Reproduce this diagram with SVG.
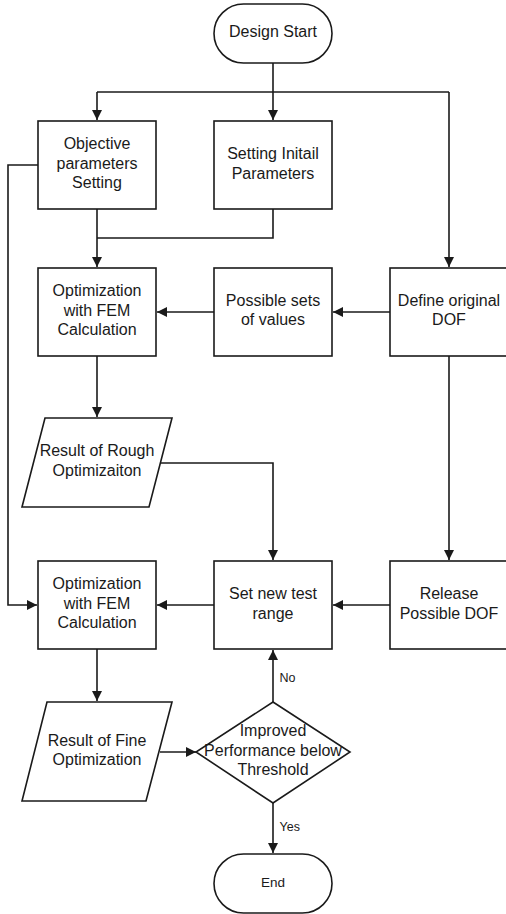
<svg xmlns="http://www.w3.org/2000/svg" width="506" height="914" viewBox="0 0 506 914">
<defs>
<marker id="ah" markerUnits="userSpaceOnUse" markerWidth="12" markerHeight="10" refX="10" refY="5" orient="auto">
<path d="M0,0 L10,5 L0,10 Z" fill="#1a1a1a"/>
</marker>
<style>
.s{fill:#fff;stroke:#1a1a1a;stroke-width:1.6}
.c{fill:none;stroke:#1a1a1a;stroke-width:1.6}
.a{marker-end:url(#ah)}
text{font-family:"Liberation Sans",Arial,sans-serif;font-size:16px;fill:#1a1a1a;text-anchor:middle}
.sm{font-size:13.5px}
.lb{font-size:12.5px;text-anchor:start}
</style>
</defs>
<rect width="506" height="914" fill="#fff"/>
<g id="connectors">
<path class="c" d="M273,63 V92"/>
<path class="c" d="M97,92 H449"/>
<path class="c a" d="M97,92 V120"/>
<path class="c a" d="M273,92 V120"/>
<path class="c a" d="M449,92 V267"/>
<path class="c" d="M273,209 V238 H97"/>
<path class="c a" d="M97,209 V267"/>
<path class="c a" d="M390,312 H333"/>
<path class="c a" d="M214,312 H157"/>
<path class="c a" d="M97,356 V417"/>
<path class="c a" d="M161,463 H273 V560"/>
<path class="c a" d="M449,356 V560"/>
<path class="c a" d="M38,165 H8 V605 H37"/>
<path class="c a" d="M390,605 H333"/>
<path class="c a" d="M214,605 H157"/>
<path class="c a" d="M97,649 V701"/>
<path class="c a" d="M160,752 H196"/>
<path class="c a" d="M273,702 V650"/>
<path class="c a" d="M273,803 V853"/>
<text class="lb" x="279.5" y="682">No</text>
<text class="lb" x="279.5" y="831">Yes</text>
</g>
<g id="start">
<rect class="s" x="214" y="4" width="118" height="59" rx="29.5"/>
<text x="273" y="37">Design Start</text>
</g>
<g id="objective">
<rect class="s" x="38" y="121" width="118" height="88"/>
<text x="97" y="149">Objective</text>
<text x="97" y="168.5">parameters</text>
<text x="97" y="188">Setting</text>
</g>
<g id="initial">
<rect class="s" x="214" y="121" width="118" height="88"/>
<text x="273" y="159">Setting Initail</text>
<text x="273" y="178.5">Parameters</text>
</g>
<g id="opt1">
<rect class="s" x="38" y="268" width="118" height="88"/>
<text x="97" y="296">Optimization</text>
<text x="97" y="315.5">with FEM</text>
<text x="97" y="335">Calculation</text>
</g>
<g id="possible">
<rect class="s" x="214" y="268" width="118" height="88"/>
<text x="273" y="305.5">Possible sets</text>
<text x="273" y="325">of values</text>
</g>
<g id="define">
<rect class="s" x="390" y="268" width="117" height="88"/>
<text x="449" y="305.5">Define original</text>
<text x="449" y="325">DOF</text>
</g>
<g id="rough">
<path class="s" d="M45,418 H172 L149,507 H22 Z"/>
<text x="97" y="456">Result of Rough</text>
<text x="97" y="475.5">Optimizaiton</text>
</g>
<g id="opt2">
<rect class="s" x="38" y="561" width="118" height="88"/>
<text x="97" y="589">Optimization</text>
<text x="97" y="608.5">with FEM</text>
<text x="97" y="628">Calculation</text>
</g>
<g id="setrange">
<rect class="s" x="214" y="561" width="118" height="88"/>
<text x="273" y="599">Set new test</text>
<text x="273" y="618.5">range</text>
</g>
<g id="release">
<rect class="s" x="390" y="561" width="117" height="88"/>
<text x="449" y="599">Release</text>
<text x="449" y="618.5">Possible DOF</text>
</g>
<g id="fine">
<path class="s" d="M47,702 H172 L146,801 H22 Z"/>
<text x="97" y="745.5">Result of Fine</text>
<text x="97" y="765">Optimization</text>
</g>
<g id="decision">
<path class="s" d="M273,702 L350,752 L273,803 L196,752 Z"/>
<text x="273" y="735.5">Improved</text>
<text x="273" y="755.5">Performance below</text>
<text x="273" y="775">Threshold</text>
</g>
<g id="end">
<rect class="s" x="214" y="854" width="118" height="59" rx="29.5"/>
<text class="sm" x="273" y="887">End</text>
</g>
</svg>
